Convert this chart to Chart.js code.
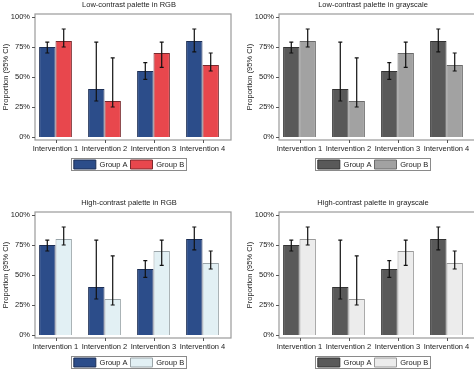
<!DOCTYPE html>
<html>
<head>
<meta charset="utf-8">
<script src="https://cdn.jsdelivr.net/npm/chart.js@4.4.1/dist/chart.umd.min.js"></script>
<style>
  html, body { margin: 0; padding: 0; background: #fff; }
  #wrap { position: relative; width: 474px; height: 369px; overflow: hidden; background: #fff; }
  .panel { position: absolute; width: 237px; height: 185px; }
</style>
</head>
<body>
<div id="wrap">
  <div class="panel" style="left:0;top:0"><canvas id="c1" width="237" height="185"></canvas></div>
  <div class="panel" style="left:244px;top:0"><canvas id="c2" width="237" height="185"></canvas></div>
  <div class="panel" style="left:0;top:198px"><canvas id="c3" width="237" height="185"></canvas></div>
  <div class="panel" style="left:244px;top:198px"><canvas id="c4" width="237" height="185"></canvas></div>
</div>
<script>
// data (proportions in %)
const categories = ['Intervention 1', 'Intervention 2', 'Intervention 3', 'Intervention 4'];
const groupA = [75, 40, 55, 80];
const groupB = [80, 30, 70, 60];
const groupALow = [70, 30, 48, 71];
const groupAHigh = [79, 79, 62, 90];
const groupBLow = [75, 25, 58, 55];
const groupBHigh = [90, 66, 79, 70];
const yTicks = [0, 25, 50, 75, 100];
const seriesNames = ['Group A', 'Group B'];

const FONT = 'Liberation Sans, Arial, sans-serif';

// one palette per panel
const panels = [
    { id: 'c1', title: 'Low-contrast palette in RGB', colors: ['#2c4d8a', '#e8474d'], borders: ['#1d2f55', '#7a2a2e'] },
    { id: 'c2', title: 'Low-contrast palette in grayscale', colors: ['#595959', '#a2a2a2'], borders: ['#333333', '#6a6a6a'] },
    { id: 'c3', title: 'High-contrast palette in RGB', colors: ['#2c4d8a', '#e2f0f4'], borders: ['#1d2f55', '#9aa4a8'] },
    { id: 'c4', title: 'High-contrast palette in grayscale', colors: ['#595959', '#ececec'], borders: ['#333333', '#9a9a9a'] }
];

// frame, tick marks, error bars and the legend border
const framePlugin = {
    id: 'frame',
    beforeDatasetsDraw(chart) {
        const { ctx, chartArea: a, scales } = chart;
        const left = a.left + 4, right = a.right + 4, top = a.top - 3, bottom = a.bottom + 3;
        ctx.save();
        ctx.strokeStyle = '#9a9a9a';
        ctx.lineWidth = 1.2;
        ctx.strokeRect(left, top, right - left, bottom - top);
        ctx.strokeStyle = '#555';
        ctx.lineWidth = 1;
        ctx.beginPath();
        yTicks.forEach(v => {
            const y = Math.round(scales.y.getPixelForValue(v)) + 0.5;
            ctx.moveTo(left - 3, y);
            ctx.lineTo(left, y);
        });
        categories.forEach((c, i) => {
            const x = Math.round(scales.x.getPixelForValue(i)) + 0.5;
            ctx.moveTo(x, bottom);
            ctx.lineTo(x, bottom + 3);
        });
        ctx.stroke();
        ctx.restore();
    },
    afterDatasetsDraw(chart) {
        const { ctx, scales } = chart;
        const lows = [groupALow, groupBLow];
        const highs = [groupAHigh, groupBHigh];
        ctx.save();
        ctx.strokeStyle = '#111';
        ctx.lineWidth = 1.2;
        chart.data.datasets.forEach((ds, d) => {
            const meta = chart.getDatasetMeta(d);
            meta.data.forEach((bar, i) => {
                const x = bar.x;
                const y1 = scales.y.getPixelForValue(lows[d][i]);
                const y2 = scales.y.getPixelForValue(highs[d][i]);
                ctx.beginPath();
                ctx.moveTo(x, y1); ctx.lineTo(x, y2);
                ctx.moveTo(x - 2, y1); ctx.lineTo(x + 2, y1);
                ctx.moveTo(x - 2, y2); ctx.lineTo(x + 2, y2);
                ctx.stroke();
            });
        });
        ctx.restore();
    },
    afterDraw(chart) {
        const boxes = chart.legend && chart.legend.legendHitBoxes;
        if (!boxes || !boxes.length) return;
        const first = boxes[0], last = boxes[boxes.length - 1];
        const ctx = chart.ctx;
        ctx.save();
        ctx.strokeStyle = '#8a8a8a';
        ctx.lineWidth = 1;
        ctx.strokeRect(Math.round(first.left) - 2.5, Math.round(first.top) - 1.5,
            Math.round(last.left + last.width - first.left) + 5, Math.round(first.height) + 3);
        ctx.restore();
    }
};

function makeChart(p) {
    const ctx = document.getElementById(p.id);
    return new Chart(ctx.getContext('2d'), {
        type: 'bar',
        data: {
            labels: categories,
            datasets: [groupA, groupB].map((vals, i) => ({
                label: seriesNames[i],
                data: vals,
                backgroundColor: p.colors[i],
                borderColor: p.borders[i],
                borderWidth: 1,
                categoryPercentage: 0.67,
                barPercentage: 1
            }))
        },
        options: {
            responsive: false,
            animation: false,
            devicePixelRatio: 1,
            layout: { padding: { left: 0, right: 10, top: 0, bottom: 6 } },
            plugins: {
                title: {
                    display: true,
                    text: p.title,
                    fullSize: false,
                    color: '#222',
                    font: { family: FONT, size: 7.5, weight: 'normal' },
                    padding: { top: 0, bottom: 8 }
                },
                legend: {
                    position: 'bottom',
                    fullSize: false,
                    labels: {
                        boxWidth: 22,
                        boxHeight: 9,
                        padding: 3,
                        color: '#222',
                        font: { family: FONT, size: 7.5 }
                    }
                },
                tooltip: { enabled: false }
            },
            scales: {
                x: {
                    grid: { display: false, drawTicks: false },
                    border: { display: false },
                    ticks: {
                        color: '#222',
                        font: { family: FONT, size: 7.5 },
                        padding: 7,
                        maxRotation: 0,
                        minRotation: 0,
                        autoSkip: false
                    },
                    afterFit(scale) { scale.height = 20; }
                },
                y: {
                    min: 0,
                    max: 100,
                    grid: { display: false, drawTicks: false },
                    border: { display: false },
                    ticks: {
                        stepSize: 25,
                        color: '#222',
                        padding: 1,
                        font: { family: FONT, size: 7.5 },
                        callback: v => v + '%'
                    },
                    title: {
                        display: true,
                        text: 'Proportion (95% CI)',
                        color: '#222',
                        font: { family: FONT, size: 7.5 },
                        padding: { top: 1, bottom: 0 }
                    },
                    afterFit(scale) { scale.width = 31; }
                }
            }
        },
        plugins: [framePlugin]
    });
}

panels.forEach(makeChart);
</script>
</body>
</html>
